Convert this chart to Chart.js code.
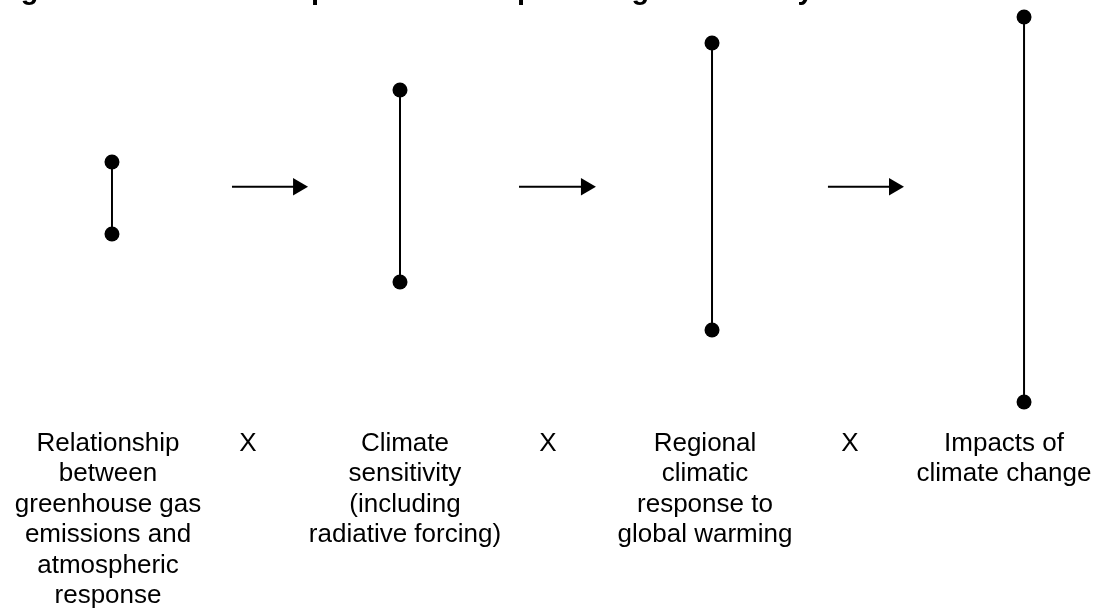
<!DOCTYPE html>
<html>
<head>
    <title>Uncertainty explosion</title>
    <script src="https://cdn.jsdelivr.net/npm/chart.js"></script>
    <style>
        body { margin: 0; background: #fff; }
        #box { width: 1101px; height: 610px; }
    </style>
</head>
<body>
    <div id="box">
        <canvas id="cascade"></canvas>
    </div>

    <script>
        // stages of the cascade (x position on a 0-100 scale)
        const stageX = [10.17, 36.33, 64.67, 93.01];
        // uncertainty range of each stage (0-100 scale)
        const rangeLow = [61.64, 53.77, 45.90, 34.10];
        const rangeHigh = [73.44, 85.25, 92.95, 97.21];

        // arrows between stages
        const arrowFrom = [21.07, 47.14, 75.20];
        const arrowTo = [27.07, 53.22, 81.20];
        const arrowY = 69.39;

        // text under each stage
        const stageLabels = [
            ['Relationship', 'between', 'greenhouse gas', 'emissions and', 'atmospheric', 'response'],
            ['Climate', 'sensitivity', '(including', 'radiative forcing)'],
            ['Regional', 'climatic', 'response to', 'global warming'],
            ['Impacts of', 'climate change']
        ];
        const labelX = [9.81, 36.78, 64.03, 91.19];
        const timesX = [22.52, 49.77, 77.20];
        const labelTop = 26.07;
        const lineStep = 5.0;

        const titleText = 'Figure 1: Schematic explosion of compounding uncertainty';

        const datasets = [];
        stageX.forEach((x, i) => {
            datasets.push({
                data: [{ x: x, y: rangeLow[i] }, { x: x, y: rangeHigh[i] }],
                showLine: true,
                borderColor: '#000',
                backgroundColor: '#000',
                borderWidth: 2,
                pointRadius: 7.5,
                pointBorderWidth: 0,
                pointHoverRadius: 7.5,
                clip: false
            });
        });
        arrowFrom.forEach((x, i) => {
            datasets.push({
                data: [{ x: x, y: arrowY }, { x: arrowTo[i], y: arrowY }],
                showLine: true,
                borderColor: '#000',
                backgroundColor: '#000',
                borderWidth: 2,
                pointRadius: [0, 10],
                pointHoverRadius: [0, 10],
                pointBorderWidth: 0,
                pointStyle: ['circle', 'triangle'],
                rotation: [0, 90],
                clip: false
            });
        });

        const textPlugin = {
            id: 'cascadeText',
            afterDraw(chart) {
                const ctx = chart.ctx;
                const xs = chart.scales.x;
                const ys = chart.scales.y;
                ctx.save();
                ctx.fillStyle = '#000';
                ctx.textBaseline = 'alphabetic';

                // title, mostly cut off by the top edge
                ctx.font = 'bold 29px "Liberation Sans", Arial, sans-serif';
                ctx.textAlign = 'left';
                ctx.fillText(titleText, -5, -1);

                ctx.font = '26px "Liberation Sans", Arial, sans-serif';
                ctx.textAlign = 'center';
                stageLabels.forEach((lines, i) => {
                    lines.forEach((line, j) => {
                        ctx.fillText(line, xs.getPixelForValue(labelX[i]), ys.getPixelForValue(labelTop - j * lineStep));
                    });
                });
                timesX.forEach(x => {
                    ctx.fillText('X', xs.getPixelForValue(x), ys.getPixelForValue(labelTop));
                });
                ctx.restore();
            }
        };

        const ctx = document.getElementById('cascade').getContext('2d');
        const chart = new Chart(ctx, {
            type: 'scatter',
            data: { datasets: datasets },
            options: {
                responsive: true,
                maintainAspectRatio: false,
                animation: false,
                layout: { padding: 0, autoPadding: false },
                plugins: {
                    legend: { display: false },
                    tooltip: { enabled: false }
                },
                scales: {
                    x: { type: 'linear', min: 0, max: 100, display: false },
                    y: { type: 'linear', min: 0, max: 100, display: false }
                }
            },
            plugins: [textPlugin]
        });
    </script>
</body>
</html>
